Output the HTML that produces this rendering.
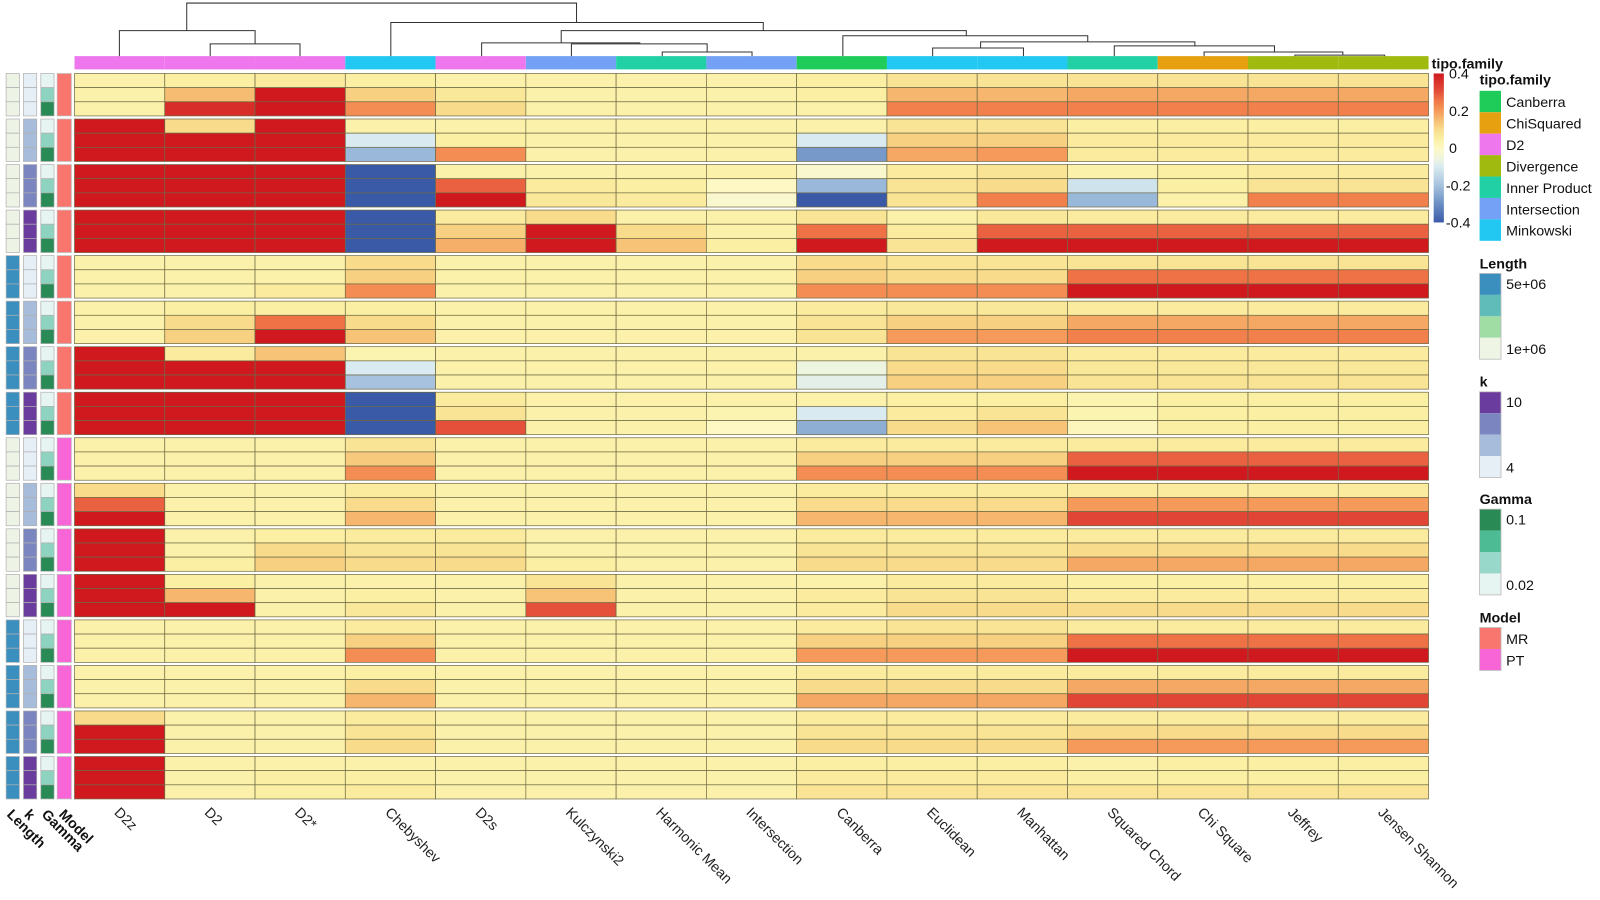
<!DOCTYPE html>
<html><head><meta charset="utf-8"><style>
html,body{margin:0;padding:0;background:#fff;}
svg{display:block;font-family:"Liberation Sans",Arial,sans-serif;}
</style></head><body>
<svg id="chart" width="1600" height="900" viewBox="0 0 1600 900" xmlns="http://www.w3.org/2000/svg"><g id="root" transform="scale(1.0204)"></g></svg>
<script>
const columns=["D2z","D2","D2*","Chebyshev","D2s","Kulczynski2","Harmonic Mean","Intersection","Canberra","Euclidean","Manhattan","Squared Chord","Chi Square","Jeffrey","Jensen Shannon"];
const colFamilies=["D2","D2","D2","Minkowski","D2","Intersection","Inner Product","Intersection","Canberra","Minkowski","Minkowski","Inner Product","ChiSquared","Divergence","Divergence"];
const familyNames=["Canberra","ChiSquared","D2","Divergence","Inner Product","Intersection","Minkowski"];
const familyColors=["#1fcc5a","#e6a010","#ee77ee","#a0ba10","#22d0a5","#74a0f5","#22c8f2"];
const groupLength=[1,1,1,1,5,5,5,5,1,1,1,1,5,5,5,5];
const groupK=[4,6,8,10,4,6,8,10,4,6,8,10,4,6,8,10];
const groupModel=["MR","MR","MR","MR","MR","MR","MR","MR","PT","PT","PT","PT","PT","PT","PT","PT"];
const rowGamma=[0.02,0.05,0.1];
const values=[
[.04,.05,.06,.05,.04,.04,.04,.04,.05,.08,.08,.08,.08,.08,.08],
[.04,.15,.4,.12,.07,.04,.04,.04,.05,.16,.16,.18,.18,.18,.18],
[.04,.36,.4,.22,.1,.04,.04,.04,.04,.24,.24,.24,.24,.24,.24],
[.4,.1,.4,.04,.04,.04,.04,.04,.04,.08,.08,.05,.05,.05,.05],
[.4,.4,.4,-.1,.05,.04,.04,.04,-.1,.12,.12,.06,.06,.06,.06],
[.4,.4,.4,-.22,.22,.04,.04,.04,-.28,.18,.2,.06,.06,.06,.06],
[.4,.4,.4,-.4,.04,.04,.04,.04,-.02,.06,.08,.04,.05,.06,.06],
[.4,.4,.4,-.4,.28,.06,.05,0,-.22,.08,.1,-.12,.05,.08,.08],
[.4,.4,.4,-.4,.4,.07,.06,-.02,-.4,.08,.24,-.22,.04,.24,.24],
[.4,.4,.4,-.4,.06,.1,.04,.04,.08,.04,.07,.06,.06,.06,.06],
[.4,.4,.4,-.4,.12,.4,.1,.04,.26,.06,.28,.28,.28,.28,.28],
[.4,.4,.4,-.4,.17,.4,.14,.05,.4,.08,.4,.4,.4,.4,.4],
[.04,.04,.04,.1,.04,.04,.04,.04,.1,.08,.08,.08,.08,.08,.08],
[.04,.04,.04,.12,.04,.04,.04,.04,.12,.1,.1,.26,.26,.26,.26],
[.04,.04,.06,.22,.04,.04,.04,.04,.22,.22,.22,.4,.4,.4,.4],
[.04,.05,.05,.05,.04,.04,.04,.04,.06,.07,.07,.06,.06,.06,.06],
[.04,.1,.26,.1,.04,.04,.04,.04,.08,.12,.12,.18,.18,.18,.18],
[.04,.12,.4,.14,.04,.04,.04,.04,.08,.2,.2,.24,.24,.24,.24],
[.4,.06,.14,.03,.04,.04,.04,.04,.04,.08,.08,.06,.06,.06,.06],
[.4,.4,.4,-.1,.04,.04,.04,.04,-.06,.1,.1,.07,.07,.07,.07],
[.4,.4,.4,-.2,.04,.04,.04,.04,-.08,.12,.12,.08,.08,.08,.08],
[.4,.4,.4,-.4,.06,.04,.04,.04,.04,.05,.05,.03,.05,.05,.05],
[.4,.4,.4,-.4,.08,.04,.04,.03,-.1,.06,.08,.03,.05,.05,.05],
[.4,.4,.4,-.4,.3,.04,.04,0,-.24,.1,.14,.01,.05,.05,.05],
[.04,.04,.04,.08,.04,.04,.04,.04,.06,.06,.06,.06,.06,.06,.06],
[.04,.04,.04,.13,.04,.04,.04,.04,.12,.12,.12,.28,.28,.28,.28],
[.04,.04,.04,.22,.04,.04,.04,.04,.22,.22,.22,.4,.4,.4,.4],
[.1,.04,.04,.06,.04,.04,.04,.04,.06,.06,.06,.06,.06,.06,.06],
[.28,.04,.04,.1,.04,.04,.04,.04,.1,.1,.1,.2,.2,.2,.2],
[.4,.04,.04,.16,.04,.04,.04,.04,.16,.16,.16,.32,.32,.32,.32],
[.4,.04,.05,.06,.06,.04,.04,.04,.06,.06,.06,.06,.06,.06,.06],
[.4,.04,.1,.08,.08,.04,.04,.04,.08,.08,.08,.1,.1,.1,.1],
[.4,.05,.12,.1,.1,.05,.04,.04,.1,.1,.1,.18,.18,.18,.18],
[.4,.05,.04,.04,.04,.08,.04,.04,.04,.06,.06,.05,.05,.05,.05],
[.4,.16,.04,.05,.04,.14,.04,.04,.06,.08,.08,.06,.06,.06,.06],
[.4,.4,.04,.07,.04,.3,.04,.04,.06,.1,.1,.1,.1,.1,.1],
[.04,.04,.04,.06,.04,.04,.04,.04,.06,.08,.08,.06,.06,.06,.06],
[.04,.04,.04,.12,.04,.04,.04,.04,.12,.12,.12,.26,.26,.26,.26],
[.04,.04,.04,.22,.04,.04,.04,.04,.2,.2,.2,.4,.4,.4,.4],
[.04,.04,.04,.05,.04,.04,.04,.04,.06,.06,.06,.06,.06,.06,.06],
[.04,.04,.04,.1,.04,.04,.04,.04,.1,.1,.1,.18,.18,.18,.18],
[.04,.04,.04,.16,.04,.04,.04,.04,.18,.18,.18,.32,.32,.32,.32],
[.1,.04,.04,.06,.04,.04,.04,.04,.06,.06,.06,.06,.06,.06,.06],
[.4,.04,.04,.08,.04,.04,.04,.04,.08,.08,.08,.1,.1,.1,.1],
[.4,.04,.04,.1,.04,.04,.04,.04,.1,.1,.1,.2,.2,.2,.2],
[.4,.04,.04,.04,.04,.04,.04,.04,.05,.05,.05,.04,.05,.05,.05],
[.4,.04,.05,.05,.04,.04,.04,.04,.06,.06,.06,.05,.05,.05,.05],
[.4,.04,.05,.06,.04,.04,.04,.04,.08,.08,.08,.08,.08,.08,.08]
];
const scaleTicks=[0.4,0.2,0,-0.2,-0.4];

const NS="http://www.w3.org/2000/svg";
const svg=document.getElementById("root");
function mk(tag,attrs,parent){const e=document.createElementNS(NS,tag);for(const k in attrs)e.setAttribute(k,attrs[k]);(parent||svg).appendChild(e);return e;}
const stops=[[-0.4,[58,90,168]],[-0.3,[107,143,196]],[-0.2,[166,194,222]],[-0.1,[217,235,240]],[-0.05,[242,246,220]],[0,[253,248,196]],[0.05,[250,239,163]],[0.1,[248,220,140]],[0.15,[246,189,114]],[0.2,[245,154,90]],[0.25,[240,122,72]],[0.3,[228,80,58]],[0.4,[208,24,31]]];
function color(v){v=Math.max(-0.4,Math.min(0.4,v));for(let i=0;i<stops.length-1;i++){const a=stops[i],b=stops[i+1];if(v<=b[0]){const t=(v-a[0])/(b[0]-a[0]);const c=a[1].map((x,j)=>Math.round(x+(b[1][j]-x)*t));return `rgb(${c})`;}}return "rgb(208,24,31)";}
const X0=73,X1=1400,Y0=72,Y1=783,NG=16,GAP=3;
const colW=(X1-X0)/columns.length;
const gH=(Y1-Y0-GAP*(NG-1))/NG, rH=gH/3;
const xCol=i=>X0+i*colW;
const yRow=r=>Y0+Math.floor(r/3)*(gH+GAP)+(r%3)*rH;
const famColor=f=>familyColors[familyNames.indexOf(f)];

const hm=mk("g",{});


values.forEach((row,r)=>row.forEach((v,c)=>{
  const e=mk("rect",{x:xCol(c),y:yRow(r),width:colW,height:rH,fill:color(v),stroke:"#6f6a45","stroke-width":0.7},hm);
  
  
}));
columns.forEach((c,i)=>{
  const e=mk("rect",{x:xCol(i),y:55,width:colW,height:13,fill:famColor(colFamilies[i])});
  
  
  const t=mk("text",{x:0,y:0,"font-size":14,fill:"#222",transform:`translate(${xCol(i)+colW/2-6},${797}) rotate(45)`});
  t.textContent=c;
  
  
});
const lenC={1:"#edf4e6",5:"#3b8fbe"};
const kC={4:"#e6eff6",6:"#a7bcda",8:"#7b86c0",10:"#6a3c9e"};
const gC={0.02:"#e6f4f2",0.05:"#8ed3c0",0.1:"#2a8a56"};
const mC={MR:"#f8766d",PT:"#f765d6"};
for(let r=0;r<values.length;r++){
  const g=Math.floor(r/3),y=yRow(r);
  let e=mk("rect",{x:6,y:y,width:13,height:rH,fill:lenC[groupLength[g]],stroke:"#b0b0b0","stroke-width":0.7});
  
  
  e=mk("rect",{x:23,y:y,width:13,height:rH,fill:kC[groupK[g]],stroke:"#b0b0b0","stroke-width":0.7});
  
  
  e=mk("rect",{x:40,y:y,width:13,height:rH,fill:gC[rowGamma[r%3]],stroke:"#b0b0b0","stroke-width":0.7});
  
  
  if(r%3===0){
    e=mk("rect",{x:56,y:y,width:14,height:gH,fill:mC[groupModel[g]],stroke:"#c0c0c0","stroke-width":0.7});
    
    
  }
}
[["Length",6],["k",23],["Gamma",40],["Model",57]].forEach(([l,x])=>{
  const t=mk("text",{"font-size":14,"font-weight":"bold",fill:"#111",transform:`translate(${x},${799}) rotate(45)`});
  t.textContent=l;
  
  
});
// dendrogram: [xl, xr, ytop, yl_bottom, yr_bottom]
const dendro=[[183,565,3,30,22],[117,250,30,55,43],[206,294,43,55,55],[383,748,22,55,30],[550,947,30,42,35],[472,627,42,55,43],[560,693,43,55,51],[649,737,51,55,55],[826,1066,35,55,41],[961,1171,41,47,45],[914,1003,47,55,55],[1092,1249,45,55,51],[1180,1316,51,55,54],[1269,1357,54,55,55]];
const dg=mk("g",{stroke:"#333","stroke-width":1,fill:"none"});


dendro.forEach(d=>{
  mk("path",{d:`M${d[0]},${d[3]}V${d[2]}H${d[1]}V${d[4]}`},dg);
});
const defs=mk("defs",{});
const lg=mk("linearGradient",{id:"cs",x1:0,y1:0,x2:0,y2:1},defs);
for(let i=0;i<=16;i++){const v=0.4-i*0.05;mk("stop",{offset:(i/16),"stop-color":color(v)},lg);}
const cb=mk("rect",{x:1405,y:72,width:10,height:146,fill:"url(#cs)"});


let t=mk("text",{x:1403,y:67,"font-size":14,"font-weight":"bold",fill:"#111"});t.textContent="tipo.family";


scaleTicks.forEach(v=>{
  const y=72+(0.4-v)/0.8*146;
  const e=mk("text",{x:v<0?1417:1420,y:y+5,"font-size":14,fill:"#111"});e.textContent=String(v);
  
  
});
function legTitle(txt,y){const e=mk("text",{x:1450,y:y,"font-size":14,"font-weight":"bold",fill:"#111"});e.textContent=txt;
  
  }
function legText(txt,y){const e=mk("text",{x:1476,y:y,"font-size":14,fill:"#111"});e.textContent=txt;
  
  }
legTitle("tipo.family",83);
familyNames.forEach((f,i)=>{
  const e=mk("rect",{x:1450,y:89+i*21,width:21,height:21,fill:familyColors[i]});
  
  
  legText(f,105+i*21);
});
function steps(cols,y0){cols.forEach((c,i)=>{const e=mk("rect",{x:1450,y:y0+i*21,width:21,height:21,fill:c});
  
  });
  mk("rect",{x:1450,y:y0,width:21,height:21*cols.length,fill:"none",stroke:"#bbb","stroke-width":0.8});}
legTitle("Length",263);steps(["#3b8fbe","#5fbcb8","#9fdda4","#eef5e4"],268);legText("5e+06",283);legText("1e+06",347);
legTitle("k",379);steps(["#6a3c9e","#7b86c0","#a7bcda","#e6eff6"],384);legText("10",399);legText("4",463);
legTitle("Gamma",494);steps(["#2a8a56","#4dbb93","#98d8cb","#e6f4f2"],499);legText("0.1",514);legText("0.02",578);
legTitle("Model",610);steps(["#f8766d","#f765d6"],615);legText("MR",631);legText("PT",652);
</script>
</body></html>
